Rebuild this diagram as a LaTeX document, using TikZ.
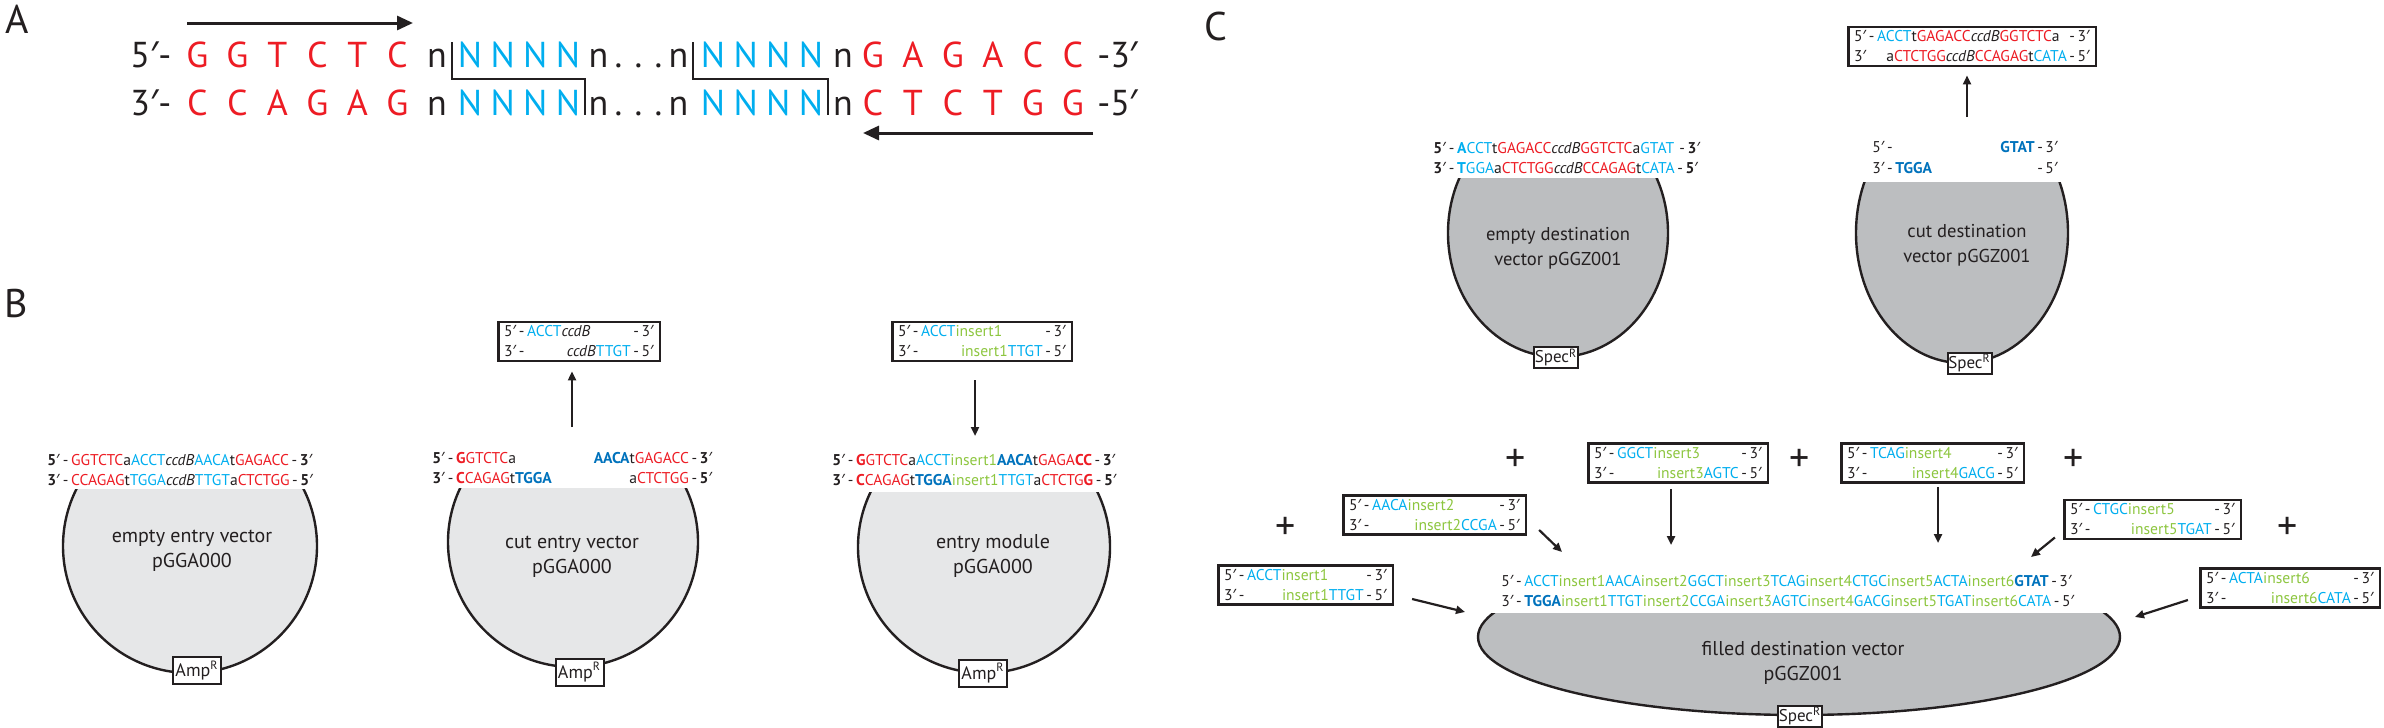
\documentclass[tikz,border=0pt]{standalone}
\usepackage{fontspec}
\setmainfont{PT Sans}
\newfontfamily\prf{Noto Sans}
\usetikzlibrary{arrows.meta}
\definecolor{sred}{HTML}{ED1C24}
\definecolor{scyan}{HTML}{00AEEF}
\definecolor{sdblue}{HTML}{0072BC}
\definecolor{sgreen}{HTML}{8DC63F}
\definecolor{sblack}{HTML}{231F20}
\definecolor{lgray}{HTML}{E6E7E8}
\definecolor{mgray}{HTML}{BCBEC0}
\newcommand\xR[1]{\textcolor{sred}{#1}}
\newcommand\xC[1]{\textcolor{scyan}{#1}}
\newcommand\xD[1]{\textcolor{sdblue}{\bfseries #1}}
\newcommand\xG[1]{\textcolor{sgreen}{#1}}
\newcommand\xccdB{\textit{ccdB}}
\newcommand\pF{5{\prf ′}}
\newcommand\pT{3{\prf ′}}
\newcommand\sqf{\fontsize{7.8}{10}\selectfont}
\newcommand\bxx[3]{\makebox[#1][l]{#2}\\\makebox[#1][l]{#3}}
\makeatletter
\newcommand\spl[2]{\@tfor\spltok:=#2\do{\makebox[#1][c]{\spltok}}}
\makeatother
\tikzset{
 lab/.style={font=\fontsize{20}{24}\selectfont, inner sep=0, text=sblack},
 ntA/.style={font=\fontsize{18}{20}\selectfont, inner sep=0, text=sblack},
 sq/.style={font=\sqf, inner sep=0, text=sblack},
 seqbox/.style={draw=sblack, line width=1.3pt, fill=white, inner xsep=3pt, inner ysep=2pt, font=\sqf, align=left, text=sblack},
 vecB/.style={draw=sblack, line width=1.2pt, fill=lgray},
 vecC/.style={draw=sblack, line width=1.2pt, fill=mgray},
 vlabB/.style={font=\fontsize{10}{12.5}\selectfont, align=center, inner sep=0, text=sblack},
 vlabC/.style={font=\fontsize{9.3}{12.5}\selectfont, align=center, inner sep=0, text=sblack},
 res/.style={draw=sblack, line width=1pt, fill=white, inner sep=0, font=\fontsize{9}{9}\selectfont, text=sblack},
 arrA/.style={draw=sblack, line width=1.5pt, -{Triangle[length=8pt,width=7pt]}},
 arr/.style={draw=sblack, line width=1.1pt, -{Triangle[length=4.5pt,width=4pt]}},
 cutl/.style={draw=sblack, line width=1pt},
 plus/.style={font=\fontsize{20}{20}\selectfont, inner sep=0, text=sblack},
}
\begin{document}
\begin{tikzpicture}[x=0.5pt,y=-0.5pt]
\useasboundingbox (0,0) rectangle (2384,728);
% ---------------- Panel A ----------------
\node[lab] (labA) at (17,19) {A};
\coordinate (a1s) at (187,23); \coordinate (a1e) at (413,23);
\draw[arrA] (a1s) -- (a1e);
\coordinate (a2s) at (1093,133); \coordinate (a2e) at (863,133);
\draw[arrA] (a2s) -- (a2e);
% row 1
\node[ntA, anchor=base west] (a5) at (130,68) {\pF-};
\node[ntA, anchor=base west, text=sred] (aR1) at (177,68) {\spl{20pt}{GGTCTC}};
\node[ntA, anchor=base] (an1) at (437,68) {n};
\node[ntA, anchor=base west, text=scyan] (aN1) at (453.2,68) {\spl{16.35pt}{NNNN}};
\node[ntA, anchor=base west] (ad1) at (588,68) {\spl{10pt}{n...n}};
\node[ntA, anchor=base west, text=scyan] (aN2) at (696.2,68) {\spl{16.35pt}{NNNN}};
\node[ntA, anchor=base] (an2) at (843,68) {n};
\node[ntA, anchor=base west, text=sred] (aR2) at (852.5,68) {\spl{20pt}{GAGACC}};
\node[ntA, anchor=base west] (a3) at (1097,68) {-\pT};
% row 2
\node[ntA, anchor=base west] (b3) at (130,115) {\pT-};
\node[ntA, anchor=base west, text=sred] (bR1) at (177,115) {\spl{20pt}{CCAGAG}};
\node[ntA, anchor=base] (bn1) at (437,115) {n};
\node[ntA, anchor=base west, text=scyan] (bN1) at (453.2,115) {\spl{16.35pt}{NNNN}};
\node[ntA, anchor=base west] (bd1) at (588,115) {\spl{10pt}{n...n}};
\node[ntA, anchor=base west, text=scyan] (bN2) at (696.2,115) {\spl{16.35pt}{NNNN}};
\node[ntA, anchor=base] (bn2) at (843,115) {n};
\node[ntA, anchor=base west, text=sred] (bR2) at (852.5,115) {\spl{20pt}{CTCTGG}};
\node[ntA, anchor=base west] (b5) at (1097,115) {-\pF};
\draw[cutl] (452,42) -- (452,79) -- (585,79) -- (585,115);
\draw[cutl] (693,42) -- (693,79) -- (828,79) -- (828,115);
% ---------------- Panel B ----------------
\node[lab] (labB) at (16,303) {B};
% B1
\begin{scope}\clip (20,489) rectangle (360,740); \draw[vecB] (190,546) circle[radius=127]; \end{scope}
\node[vlabB] (v1lab) at (192,550.5) {empty entry vector\\pGGA000};
\node[res, minimum width=24pt, minimum height=13.5pt] (amp1) at (197,670.5) {Amp\textsuperscript{R}};
\node[sq, anchor=base west] (s1a) at (47,465.5) {\textbf{\pF}\,-\,\xR{GGTCTC}a\xC{ACCT}\xccdB\xC{AACA}t\xR{GAGACC}\,-\,\textbf{\pT}};
\node[sq, anchor=base west] (s1b) at (47,485.5) {\textbf{\pT}\,-\,\xR{CCAGAG}t\xC{TGGA}\xccdB\xC{TTGT}a\xR{CTCTGG}\,-\,\textbf{\pF}};
% B2
\begin{scope}\clip (400,488) rectangle (750,740); \draw[vecB] (573,542) circle[radius=125]; \end{scope}
\node[vlabB] (v2lab) at (572,556.5) {cut entry vector\\pGGA000};
\node[res, minimum width=24pt, minimum height=13.5pt] (amp2) at (579.5,672) {Amp\textsuperscript{R}};
\node[sq, anchor=base west] (s2a) at (432,463.5) {\textbf{\pF}\,-\,\xR{\textbf{G}GTCTC}a};
\node[sq, anchor=base east] (s2b) at (713,463.5) {\xD{AACA}t\xR{GAGACC}\,-\,\textbf{\pT}};
\node[sq, anchor=base west] (s2c) at (432,483.5) {\textbf{\pT}\,-\,\xR{\textbf{C}CAGAG}t\xD{TGGA}};
\node[sq, anchor=base east] (s2d) at (713,483.5) {a\xR{CTCTGG}\,-\,\textbf{\pF}};
\node[seqbox] (b2box) at (579,341.5) {\bxx{74.8pt}{\pF\,-\,\xC{ACCT}\xccdB\hfill-\,\pT}{\pT\,-\hfill\xccdB\xC{TTGT}\,-\,\pF}};
\coordinate (b2s) at (572,427);
\draw[arr] (b2s) -- ([xshift=-3.5pt,yshift=-4.5pt]b2box.south);
% B3
\begin{scope}\clip (820,492) rectangle (1160,740); \draw[vecB] (984,547) circle[radius=126]; \end{scope}
\node[vlabB] (v3lab) at (993,555.5) {entry module\\pGGA000};
\node[res, minimum width=24pt, minimum height=13.5pt] (amp3) at (983,673) {Amp\textsuperscript{R}};
\node[sq, anchor=base west] (s3a) at (832,465.5) {\textbf{\pF}\,-\,\xR{\textbf{G}GTCTC}a\xC{ACCT}\xG{insert1}\xD{AACA}t\xR{GAGA\textbf{CC}}\,-\,\textbf{\pT}};
\node[sq, anchor=base west] (s3b) at (832,485.5) {\textbf{\pT}\,-\,\xR{\textbf{C}CAGAG}t\xD{TGGA}\xG{insert1}\xC{TTGT}a\xR{CTCTG\textbf{G}}\,-\,\textbf{\pF}};
\node[seqbox] (b3box) at (982,341.5) {\bxx{83.8pt}{\pF\,-\,\xC{ACCT}\xG{insert1}\hfill-\,\pT}{\pT\,-\hfill\xG{insert1}\xC{TTGT}\,-\,\pF}};
\coordinate (b3t) at (975,436);
\draw[arr] ([xshift=-3.5pt,yshift=-9pt]b3box.south) -- (b3t);
% ---------------- Panel C ----------------
\node[lab] (labC) at (1216,26) {C};
% C1
\begin{scope}\clip (1400,178) rectangle (1720,400); \draw[vecC] (1558,233) ellipse[x radius=110, y radius=124]; \end{scope}
\node[vlabC] (c1lab) at (1558,248.5) {empty destination\\vector pGGZ001};
\node[res, minimum width=22pt, minimum height=10.5pt, font=\fontsize{8.5}{8.5}\selectfont] (spec1) at (1556,357.5) {Spec\textsuperscript{R}};
\node[sq, anchor=base west] (c1a) at (1433,153.5) {\textbf{\pF}\,-\,\xC{\textbf{A}CCT}t\xR{GAGACC}\xccdB\xR{GGTCTC}a\xC{GTAT}\,\,-\,\textbf{\pT}};
\node[sq, anchor=base west] (c1b) at (1433,173.5) {\textbf{\pT}\,-\,\xC{\textbf{T}GGA}a\xR{CTCTGG}\xccdB\xR{CCAGAG}t\xC{CATA}\,-\,\textbf{\pF}};
% C2
\begin{scope}\clip (1820,182) rectangle (2110,400); \draw[vecC] (1962,233) ellipse[x radius=106, y radius=130]; \end{scope}
\node[vlabC] (c2lab) at (1967,245.5) {cut destination\\vector pGGZ001};
\node[res, minimum width=22pt, minimum height=10.5pt, font=\fontsize{8.5}{8.5}\selectfont] (spec2) at (1969.5,363) {Spec\textsuperscript{R}};
\node[sq, anchor=base west] (c2a) at (1872,152.5) {\pF\,-};
\node[sq, anchor=base east] (c2b) at (2058,152.5) {\xD{GTAT}\,-\,\pT};
\node[sq, anchor=base west] (c2c) at (1872,173.5) {\pT\,-\,\xD{TGGA}};
\node[sq, anchor=base east] (c2d) at (2058,173.5) {-\,\pF};
\node[seqbox] (c2box) at (1972,46.5) {\bxx{117.8pt}{\pF\,-\,\xC{ACCT}t\xR{GAGACC}\xccdB\xR{GGTCTC}a\hfill-\,\pT}{\pT\hfill a\xR{CTCTGG}\xccdB\xR{CCAGAG}t\xC{CATA}\,-\,\pF}};
\coordinate (c2s) at (1967,117);
\draw[arr] (c2s) -- ([xshift=-2.5pt,yshift=-4pt]c2box.south);
% filled destination vector
\begin{scope}\clip (1460,613) rectangle (2140,740); \draw[vecC] (1799,637) ellipse[x radius=321, y radius=78]; \end{scope}
\node[vlabC, font=\fontsize{10}{12.5}\selectfont] (c3lab) at (1803,662.5) {filled destination vector\\pGGZ001};
\node[res, minimum width=22pt, minimum height=10.5pt, font=\fontsize{8.5}{8.5}\selectfont] (spec3) at (1800,716) {Spec\textsuperscript{R}};
\node[sq, anchor=base west] (c3a) at (1501,586.5) {\pF\,-\,\xC{ACCT}\xG{insert1}\xC{AACA}\xG{insert2}\xC{GGCT}\xG{insert3}\xC{TCAG}\xG{insert4}\xC{CTGC}\xG{insert5}\xC{ACTA}\xG{insert6}\xD{GTAT}\,-\,\pT};
\node[sq, anchor=base west] (c3b) at (1501,606.5) {\pT\,-\,\xD{TGGA}\xG{insert1}\xC{TTGT}\xG{insert2}\xC{CCGA}\xG{insert3}\xC{AGTC}\xG{insert4}\xC{GACG}\xG{insert5}\xC{TGAT}\xG{insert6}\xC{CATA}\,-\,\pF};
% insert modules
\node[seqbox] (ins1) at (1305.5,585) {\bxx{81.3pt}{\pF\,-\,\xC{ACCT}\xG{insert1}\hfill-\,\pT}{\pT\,-\hfill\xG{insert1}\xC{TTGT}\,-\,\pF}};
\node[seqbox] (ins2) at (1434.5,515) {\bxx{85.3pt}{\pF\,-\,\xC{AACA}\xG{insert2}\hfill-\,\pT}{\pT\,-\hfill\xG{insert2}\xC{CCGA}\,-\,\pF}};
\node[seqbox] (ins3) at (1678,463) {\bxx{83.8pt}{\pF\,-\,\xC{GGCT}\xG{insert3}\hfill-\,\pT}{\pT\,-\hfill\xG{insert3}\xC{AGTC}\,-\,\pF}};
\node[seqbox] (ins4) at (1932.5,463) {\bxx{85.3pt}{\pF\,-\,\xC{TCAG}\xG{insert4}\hfill-\,\pT}{\pT\,-\hfill\xG{insert4}\xC{GACG}\,-\,\pF}};
\node[seqbox] (ins5) at (2152.5,519.5) {\bxx{82.3pt}{\pF\,-\,\xC{CTGC}\xG{insert5}\hfill-\,\pT}{\pT\,-\hfill\xG{insert5}\xC{TGAT}\,-\,\pF}};
\node[seqbox] (ins6) at (2290,588) {\bxx{83.8pt}{\pF\,-\,\xC{ACTA}\xG{insert6}\hfill-\,\pT}{\pT\,-\hfill\xG{insert6}\xC{CATA}\,-\,\pF}};
\coordinate (t1) at (1465,612);
\coordinate (t2) at (1562,552);
\coordinate (t3) at (1671,545);
\coordinate (t4) at (1938,543);
\coordinate (t5) at (2031,557);
\coordinate (t6) at (2135,617);
\draw[arr] ([xshift=9pt,yshift=-7pt]ins1.east) -- (t1);
\draw[arr] ([xshift=6pt,yshift=3pt]ins2.south east) -- (t2);
\draw[arr] ([xshift=-3.5pt,yshift=-2.5pt]ins3.south) -- (t3);
\draw[arr] ([xshift=2.75pt,yshift=-1.5pt]ins4.south) -- (t4);
\draw[arr] ([xshift=-4pt,yshift=1.5pt]ins5.south west) -- (t5);
\draw[arr] ([xshift=-5.5pt,yshift=-6pt]ins6.west) -- (t6);
\node[plus] (p1) at (1286,528) {+};
\node[plus] (p2) at (1516,460) {+};
\node[plus] (p3) at (1800,460) {+};
\node[plus] (p4) at (2074,460) {+};
\node[plus] (p5) at (2288,528) {+};
\end{tikzpicture}
\end{document}
